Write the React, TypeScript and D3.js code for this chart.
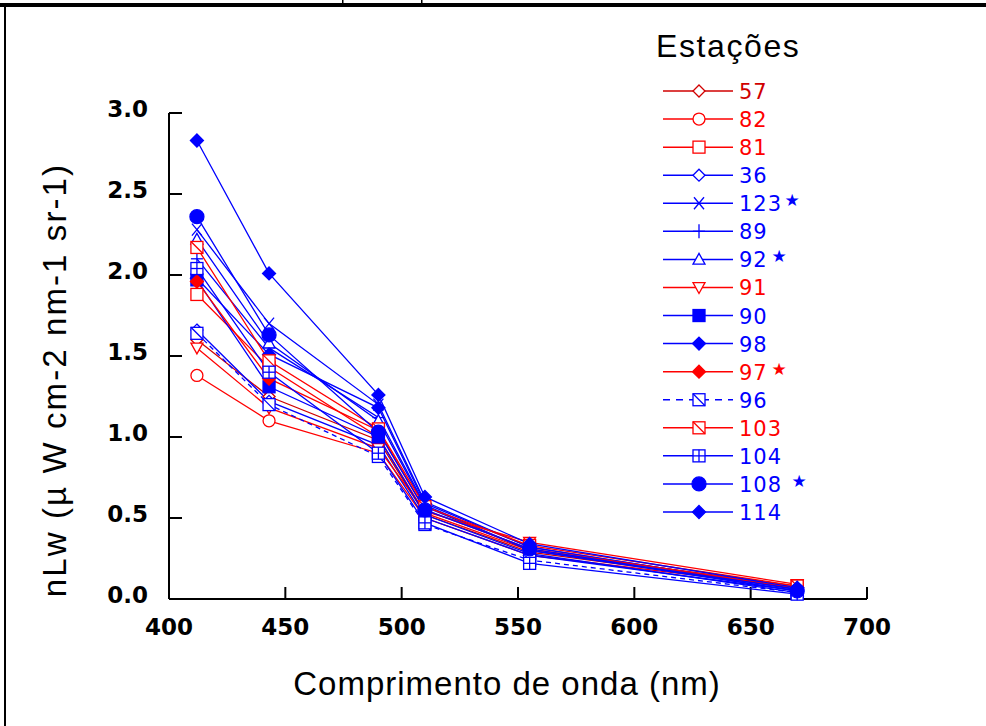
import * as d3 from "d3";

// wavelengths (nm) and nLw values
const wavelengths = [412, 443, 490, 510, 555, 670];
const xTicks = [400, 450, 500, 550, 600, 650, 700];
const yTicks = [0, 0.5, 1.0, 1.5, 2.0, 2.5, 3.0];

const s57 = [1.6, 1.25, 0.98, 0.52, 0.29, 0.07];
const s82 = [1.38, 1.1, 0.9, 0.5, 0.27, 0.07];
const s81 = [1.88, 1.43, 1.0, 0.53, 0.3, 0.08];
const s36 = [1.66, 1.22, 0.95, 0.5, 0.27, 0.05];
const s123 = [2.28, 1.7, 1.2, 0.6, 0.32, 0.06];
const s89 = [2.1, 1.55, 1.12, 0.58, 0.3, 0.06];
const s92 = [2.22, 1.58, 1.1, 0.57, 0.3, 0.05];
const s91 = [1.55, 1.18, 0.93, 0.54, 0.35, 0.09];
const s90 = [1.97, 1.31, 1.0, 0.52, 0.28, 0.04];
const s98 = [1.98, 1.51, 1.18, 0.59, 0.32, 0.06];
const s97 = [1.96, 1.36, 1.04, 0.55, 0.31, 0.07];
const s96 = [1.64, 1.2, 0.88, 0.46, 0.24, 0.04];
const s103 = [2.17, 1.47, 1.05, 0.57, 0.33, 0.08];
const s104 = [2.04, 1.4, 0.9, 0.47, 0.22, 0.03];
const s108 = [2.36, 1.63, 1.03, 0.55, 0.31, 0.05];
const s114 = [2.83, 2.01, 1.26, 0.63, 0.34, 0.07];

const RED = "#ff0000";
const DARKRED = "#d00000";
const BLUE = "#0000ff";

const series = [
  { name: "57", values: s57, color: DARKRED, marker: "diamond", filled: false, star: 0 },
  { name: "82", values: s82, color: RED, marker: "circle", filled: false, star: 0 },
  { name: "81", values: s81, color: RED, marker: "square", filled: false, star: 0 },
  { name: "36", values: s36, color: BLUE, marker: "diamond", filled: false, star: 0 },
  { name: "123", values: s123, color: BLUE, marker: "cross", filled: false, star: 792 },
  { name: "89", values: s89, color: BLUE, marker: "plus", filled: false, star: 0 },
  { name: "92", values: s92, color: BLUE, marker: "triUp", filled: false, star: 779 },
  { name: "91", values: s91, color: RED, marker: "triDown", filled: false, star: 0 },
  { name: "90", values: s90, color: BLUE, marker: "square", filled: true, star: 0 },
  { name: "98", values: s98, color: BLUE, marker: "diamond", filled: true, star: 0 },
  { name: "97", values: s97, color: RED, marker: "diamond", filled: true, star: 779 },
  { name: "96", values: s96, color: BLUE, marker: "squareSlash", filled: false, star: 0, dashed: true },
  { name: "103", values: s103, color: RED, marker: "squareSlash", filled: false, star: 0 },
  { name: "104", values: s104, color: BLUE, marker: "squarePlus", filled: false, star: 0 },
  { name: "108", values: s108, color: BLUE, marker: "circleBig", filled: true, star: 799 },
  { name: "114", values: s114, color: BLUE, marker: "diamond", filled: true, star: 0 },
];

function Marker(props) {
  const { type, filled, color, x, y } = props;
  const fill = filled ? color : "#fff";
  const sw = 1.3;
  const s = 6;
  if (type === "diamond") {
    const h = filled ? 6.5 : 6;
    return <path d={`M${x},${y - h}L${x + h},${y}L${x},${y + h}L${x - h},${y}Z`} fill={fill} stroke={color} strokeWidth={sw} />;
  }
  if (type === "circle") return <circle cx={x} cy={y} r={s} fill={fill} stroke={color} strokeWidth={sw} />;
  if (type === "circleBig") return <circle cx={x} cy={y} r={7} fill={fill} stroke={color} strokeWidth={sw} />;
  if (type === "square") return <rect x={x - s} y={y - s} width={2 * s} height={2 * s} fill={fill} stroke={color} strokeWidth={sw} />;
  if (type === "squareSlash")
    return (
      <g stroke={color} strokeWidth={sw}>
        <rect x={x - s} y={y - s} width={2 * s} height={2 * s} fill="#fff" />
        <line x1={x - s} y1={y - s} x2={x + s} y2={y + s} />
      </g>
    );
  if (type === "squarePlus")
    return (
      <g stroke={color} strokeWidth={sw}>
        <rect x={x - s} y={y - s} width={2 * s} height={2 * s} fill="#fff" />
        <line x1={x - s} y1={y} x2={x + s} y2={y} />
        <line x1={x} y1={y - s} x2={x} y2={y + s} />
      </g>
    );
  if (type === "triUp")
    return <path d={`M${x},${y - s}L${x + s},${y + s * 0.8}L${x - s},${y + s * 0.8}Z`} fill={fill} stroke={color} strokeWidth={sw} />;
  if (type === "triDown")
    return <path d={`M${x},${y + s}L${x + s},${y - s * 0.8}L${x - s},${y - s * 0.8}Z`} fill={fill} stroke={color} strokeWidth={sw} />;
  if (type === "cross")
    return (
      <g stroke={color} strokeWidth={sw}>
        <line x1={x - 5} y1={y - 6} x2={x + 5} y2={y + 6} />
        <line x1={x - 5} y1={y + 6} x2={x + 5} y2={y - 6} />
      </g>
    );
  if (type === "plus")
    return (
      <g stroke={color} strokeWidth={sw}>
        <line x1={x} y1={y - 7} x2={x} y2={y + 7} />
        <line x1={x - 6} y1={y} x2={x + 6} y2={y} />
      </g>
    );
  return null;
}

export default function App() {
  const x = d3.scaleLinear().domain([400, 700]).range([169, 867]);
  const y = d3.scaleLinear().domain([0, 3]).range([599, 113]);
  const line = d3
    .line<number>()
    .x((d, i) => x(wavelengths[i]))
    .y((d) => y(d));

  const legendY = d3.scaleLinear().domain([0, series.length - 1]).range([91, 512]);

  return (
    <svg width={986} height={726} style={{ position: "absolute", left: 0, top: 0, background: "#fff" }}>
      {/* frame */}
      <rect x={0} y={3} width={986} height={4} fill="#000" />
      <rect x={4} y={5} width={2} height={721} fill="#000" />
      <rect x={342} y={0} width={1.5} height={4} fill="#000" />
      <rect x={421} y={0} width={1.5} height={4} fill="#000" />

      {/* axes */}
      <line x1={x(400)} y1={y(0)} x2={x(700)} y2={y(0)} stroke="#000" strokeWidth={2} />
      <line x1={x(400)} y1={y(0)} x2={x(400)} y2={y(3)} stroke="#000" strokeWidth={2} />
      {xTicks.map((t) => (
        <g key={"x" + t}>
          <line x1={x(t)} x2={x(t)} y1={y(0)} y2={y(0) - 12} stroke="#000" strokeWidth={2} />
          <text x={x(t)} y={635} textAnchor="middle" fontFamily="DejaVu Sans" fontWeight="bold" fontSize={23}>
            {t}
          </text>
        </g>
      ))}
      {yTicks.map((t) => (
        <g key={"y" + t}>
          <line x1={x(400)} x2={x(400) + 13} y1={y(t)} y2={y(t)} stroke="#000" strokeWidth={2} />
          <text x={148} y={y(t) + 4} textAnchor="end" fontFamily="DejaVu Sans" fontWeight="bold" fontSize={23}>
            {t.toFixed(1)}
          </text>
        </g>
      ))}

      <text x={507} y={695} textAnchor="middle" fontFamily="Liberation Sans, Arial" fontSize={33} letterSpacing={1}>
        Comprimento de onda (nm)
      </text>
      <text
        transform={`translate(66,380) rotate(-90)`}
        textAnchor="middle"
        fontFamily="Liberation Sans, Arial"
        fontSize={33}
        letterSpacing={2.1}
      >
        nLw (µ W cm-2 nm-1 sr-1)
      </text>

      {/* data */}
      {series.map((s) => (
        <path
          key={"l" + s.name}
          d={line(s.values) || ""}
          fill="none"
          stroke={s.color}
          strokeWidth={1.3}
          strokeDasharray={s.dashed ? "5,4" : undefined}
        />
      ))}
      {series.map((s) =>
        s.values.map((v, i) => (
          <Marker key={s.name + "-" + i} type={s.marker} filled={s.filled} color={s.color} x={x(wavelengths[i])} y={y(v)} />
        ))
      )}

      {/* legend */}
      <text x={656} y={57} fontFamily="Liberation Sans, Arial" fontSize={32} letterSpacing={1.6}>
        Estações
      </text>
      {series.map((s, i) => {
        const ly = legendY(i);
        return (
          <g key={"lg" + s.name}>
            <line x1={663} x2={733} y1={ly} y2={ly} stroke={s.color} strokeWidth={1.5} strokeDasharray={s.dashed ? "7,6" : undefined} />
            <Marker type={s.marker} filled={s.filled} color={s.color} x={699} y={ly} />
            <text x={739} y={ly + 8} fill={s.color} fontFamily="DejaVu Sans" fontSize={21} letterSpacing={1}>
              {s.name}
            </text>
            {s.star ? (
              <text x={s.star} y={ly + 3} fill={s.color} fontFamily="DejaVu Sans" fontSize={17} textAnchor="middle">
                ★
              </text>
            ) : null}
          </g>
        );
      })}
    </svg>
  );
}
